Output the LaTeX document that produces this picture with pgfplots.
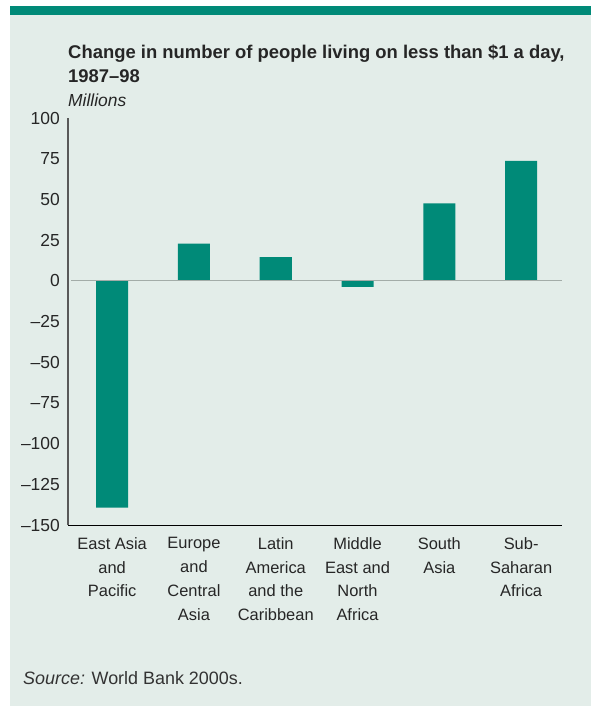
\documentclass[border=0pt]{standalone}
\usepackage{pgfplots}
\pgfplotsset{compat=1.18}
\usepackage{fontspec}
\setmainfont{Liberation Sans}
\definecolor{panel}{HTML}{E3EDE9}
\definecolor{tealbar}{HTML}{008A78}
\definecolor{zeroline}{HTML}{A3ACA8}
\begin{document}
\begin{tikzpicture}[x=1bp,y=1bp]
\path[use as bounding box] (0,0) rectangle (591,-709);
\fill[white] (0,0) rectangle (591,-709);
\fill[panel] (10,-6) rectangle (591,-706);
\fill[tealbar] (10,-6) rectangle (591,-15);
\node[anchor=base west, font=\fontsize{18.5}{20}\selectfont\bfseries, inner sep=0, text=black!85] at (68,-59) {Change in number of people living on less than \$1 a day,};
\node[anchor=base west, font=\fontsize{18.5}{20}\selectfont\bfseries, inner sep=0, text=black!85] at (68,-83) {1987–98};
\node[anchor=base west, font=\fontsize{17.5}{20}\selectfont\itshape, inner sep=0, text=black!85] at (68,-107) {Millions};
\node[anchor=base west, font=\fontsize{18}{20}\selectfont, inner sep=0, text=black!80] at (23,-684) {\textit{Source:} World Bank 2000s.};
\begin{axis}[
  at={(68bp,-525bp)}, anchor=south west,
  scale only axis, width=494bp, height=407bp,
  xmin=-0.54, xmax=5.5, ymin=-150, ymax=100,
  axis x line*=bottom, axis y line*=left,
  x axis line style={black, line width=1bp},
  y axis line style={black!65, line width=1.2bp},
  major tick length=0,
  ytick={-150,-125,-100,-75,-50,-25,0,25,50,75,100},
  yticklabels={–150,–125,–100,–75,–50,–25,0,25,50,75,100},
  xtick={0,1,2,3,4,5},
  xticklabels={{East Asia\\and\\Pacific},{Europe\\and\\Central\\Asia},{Latin\\America\\and the\\Caribbean},{Middle\\East and\\North\\Africa},{South\\Asia},{Sub-\\Saharan\\Africa}},
  yticklabel style={anchor=east, inner sep=0, xshift=-8bp, font=\fontsize{17.5}{20}\selectfont, text=black!85},
  xticklabel style={anchor=north, align=center, inner sep=0, yshift=-12bp, font=\fontsize{16.5}{24}\selectfont, text=black!85},
]
\addplot[ybar, bar width=32bp, fill=tealbar, draw=none] coordinates {(0,-139.3) (1,22.9) (2,14.5) (3,-3.8) (4,47.6) (5,73.7)};
\draw[zeroline, line width=1.2bp] (axis cs:-0.5,0) -- (axis cs:5.5,0);
\end{axis}
\end{tikzpicture}
\end{document}
